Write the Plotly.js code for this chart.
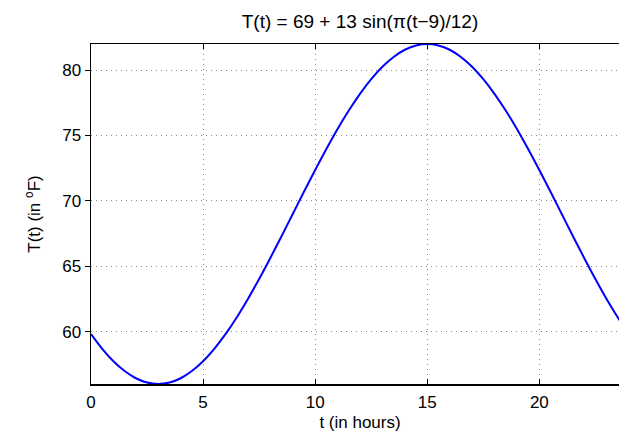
<!DOCTYPE html>
<html>
<head>
<meta charset="utf-8">
<script src="https://cdn.plot.ly/plotly-3.0.1.min.js"></script>
<style>
html, body { margin: 0; padding: 0; overflow: hidden; background: #fff; }
#chart { width: 660px; height: 435px; }
</style>
</head>
<body>
<div id="chart"></div>
<script>
// time in hours
const tValues = [0, 0.5, 1, 1.5, 2, 2.5, 3, 3.5, 4, 4.5, 5, 5.5, 6, 6.5, 7, 7.5, 8, 8.5,
  9, 9.5, 10, 10.5, 11, 11.5, 12, 12.5, 13, 13.5, 14, 14.5, 15, 15.5, 16, 16.5, 17, 17.5,
  18, 18.5, 19, 19.5, 20, 20.5, 21, 21.5, 22, 22.5, 23, 23.5, 24];
// temperature in degrees F
const tempValues = [59.81, 58.69, 57.74, 56.99, 56.44, 56.11, 56.00, 56.11, 56.44, 56.99,
  57.74, 58.69, 59.81, 61.09, 62.50, 64.03, 65.64, 67.30, 69.00, 70.70, 72.36, 73.97,
  75.50, 76.91, 78.19, 79.31, 80.26, 81.01, 81.56, 81.89, 82.00, 81.89, 81.56, 81.01,
  80.26, 79.31, 78.19, 76.91, 75.50, 73.97, 72.36, 70.70, 69.00, 67.30, 65.64, 64.03,
  62.50, 61.09, 59.81];
const xTicks = [0, 5, 10, 15, 20];
const yTicks = [60, 65, 70, 75, 80];

const fam = 'Liberation Sans, Arial, Helvetica, sans-serif';
const tickFont = { family: fam, size: 17, color: '#000' };
const labelFont = { family: fam, size: 17, color: '#000' };
const titleFont = { family: fam, size: 19, color: '#000' };

const trace = {
  x: tValues, y: tempValues, type: 'scatter', mode: 'lines',
  line: { color: '#0000ff', width: 2, shape: 'spline' },
  hoverinfo: 'skip'
};

const axisCommon = {
  showline: true, linecolor: '#000', linewidth: 1.5, mirror: 'ticks',
  ticklen: 5, tickwidth: 1, tickcolor: '#000',
  showgrid: true, gridcolor: '#8a8a8a', gridwidth: 1, griddash: '1px,4px',
  zeroline: false, tickfont: tickFont
};

const layout = {
  width: 660, height: 435,
  margin: { l: 91, r: 31, t: 44, b: 51, pad: 0 },
  paper_bgcolor: '#fff', plot_bgcolor: '#fff',
  font: tickFont,
  showlegend: false,
  title: { text: 'T(t) = 69 + 13 sin(π(t−9)/12)', font: titleFont, x: 0.5, xanchor: 'center', xref: 'paper', y: 0.951, yanchor: 'middle' },
  xaxis: Object.assign({}, axisCommon, {
    ticks: 'inside', ticklabelstandoff: 2,
    range: [0, 24], tickvals: xTicks, ticktext: xTicks.map(String),
    title: { text: 't (in hours)', font: labelFont, standoff: 5 }
  }),
  yaxis: Object.assign({}, axisCommon, {
    ticks: 'outside',
    range: [56, 82], tickvals: yTicks, ticktext: yTicks.map(String),
    title: { text: 'T(t) (in <sup>o</sup>F)', font: labelFont, standoff: 17 }
  })
};

Plotly.newPlot('chart', [trace], layout, { displayModeBar: false, staticPlot: true });
</script>
</body>
</html>
